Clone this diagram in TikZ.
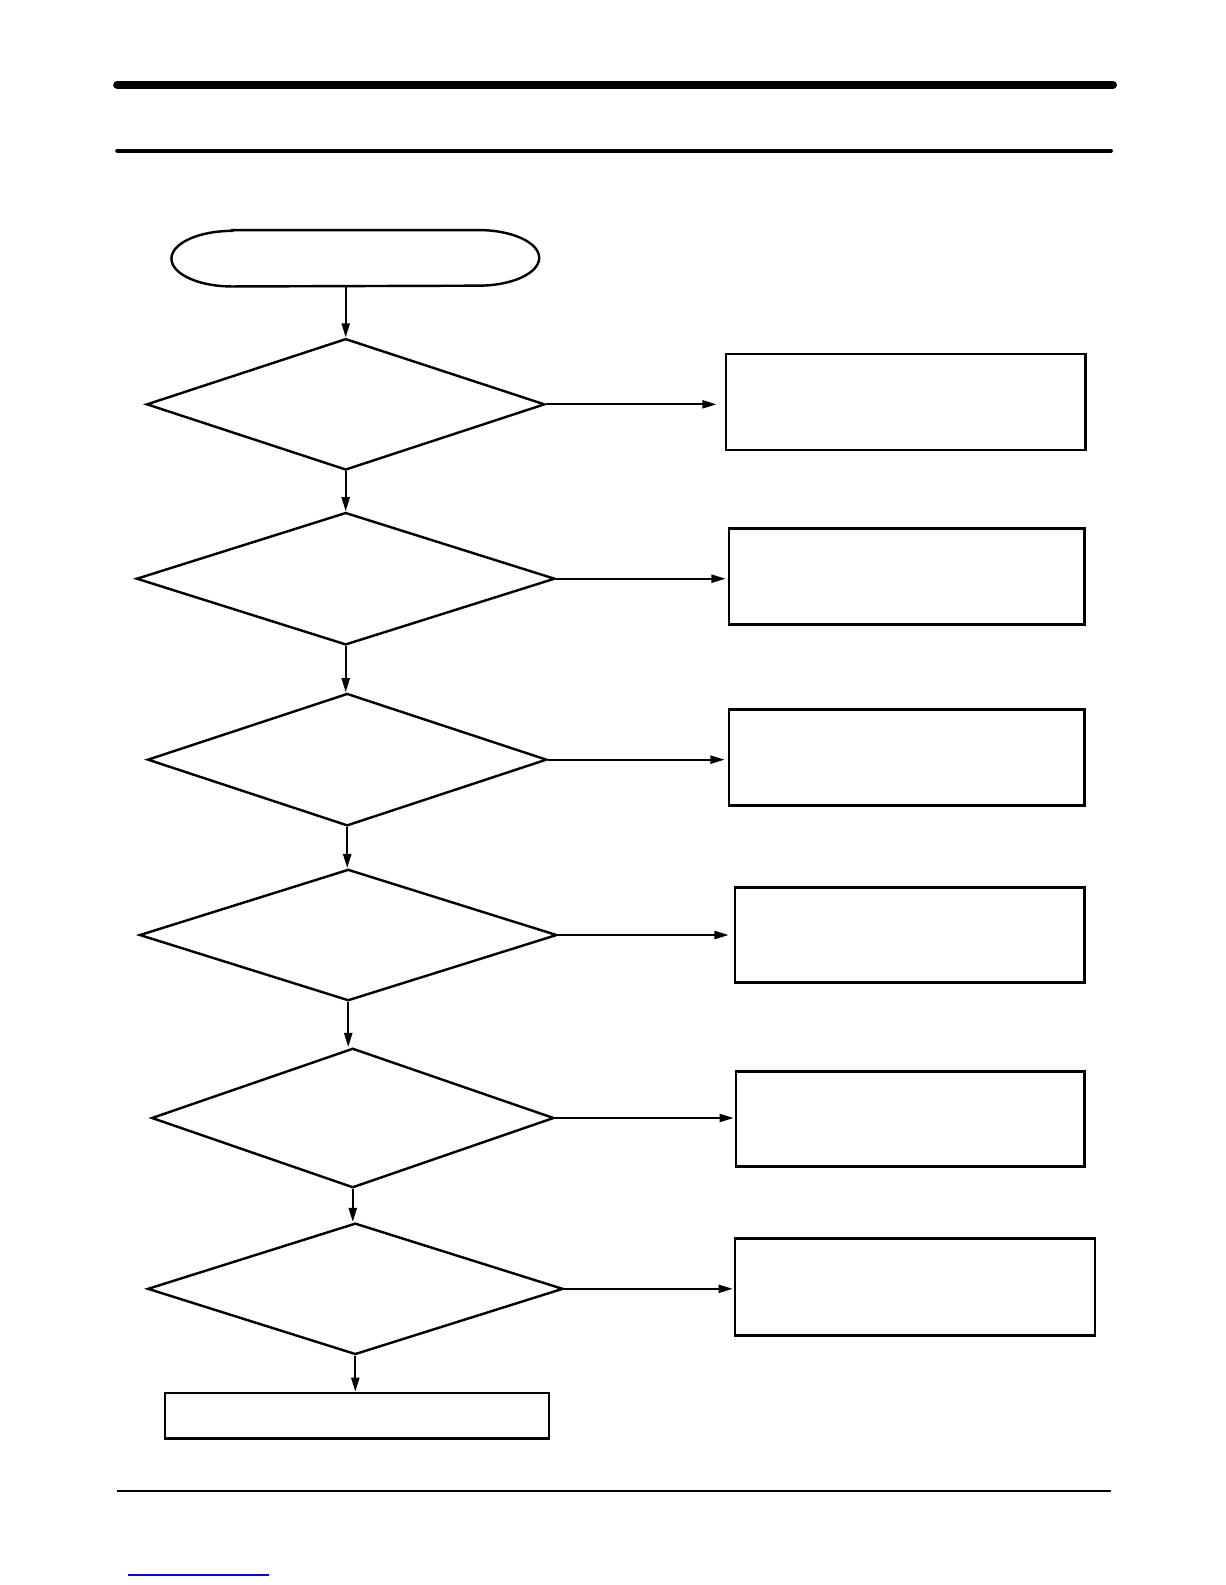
\documentclass[tikz,border=0pt]{standalone}
\usetikzlibrary{shapes.geometric,arrows.meta}
\begin{document}
\begin{tikzpicture}[x=0.5pt,y=-0.5pt,
  dec/.style={diamond,draw,line width=1.2pt,inner sep=0pt,aspect=3},
  outbox/.style={rectangle,draw,line width=1.2pt,inner sep=0pt},
  flow/.style={line width=1pt,-{Triangle[length=7pt,width=4pt]}}]
\useasboundingbox (0,0) rectangle (1212,1568);
% header / footer rules
\draw[line width=4pt,line cap=round] (116,84) -- (1101,84);
\draw[line width=2pt,line cap=round] (116,149) -- (1099,149);
\draw[line width=0.75pt] (116,1475) -- (1099,1475);
\draw[line width=0.8pt,blue] (127,1558) -- (266,1558);
% start terminal
\node[rectangle,draw=none,minimum width=181.5pt,minimum height=27.5pt,inner sep=0pt] (start) at (351.5,255.5) {};
\draw[line width=1.2pt] ([xshift=30pt]start.north west) -- ([xshift=-30pt]start.north east)
  arc[start angle=90,end angle=-90,x radius=30pt,y radius=13.75pt]
  -- ([xshift=30pt]start.south west)
  arc[start angle=270,end angle=90,x radius=30pt,y radius=13.75pt] -- cycle;
% decisions
\node[dec,minimum width=197pt,minimum height=65pt] (d1) at (342,400) {};
\node[dec,minimum width=207pt,minimum height=65.5pt] (d2) at (342,572.5) {};
\node[dec,minimum width=197.5pt,minimum height=65.5pt] (d3) at (343.5,751.5) {};
\node[dec,minimum width=206.5pt,minimum height=65pt] (d4) at (344.5,925) {};
\node[dec,minimum width=199pt,minimum height=69pt] (d5) at (349,1106) {};
\node[dec,minimum width=205.5pt,minimum height=65pt] (d6) at (351.5,1275) {};
% boxes
\node[outbox,minimum width=178pt,minimum height=47.5pt] (b1) at (896,397.5) {};
\node[outbox,minimum width=176pt,minimum height=47.5pt] (b2) at (897,570.5) {};
\node[outbox,minimum width=176pt,minimum height=47.5pt] (b3) at (897,749.5) {};
\node[outbox,minimum width=173pt,minimum height=47pt] (b4) at (900,925) {};
\node[outbox,minimum width=172.5pt,minimum height=47pt] (b5) at (900.5,1107) {};
\node[outbox,minimum width=178pt,minimum height=48pt] (b6) at (905,1273) {};
\node[outbox,minimum width=190pt,minimum height=22.5pt] (bend) at (353,1400.5) {};
% vertical flow
\draw[flow] (d1.north |- start.south) -- (d1.north);
\draw[flow] (d1.south) -- (d2.north -| d1.south);
\draw[flow] (d2.south) -- (d3.north -| d2.south);
\draw[flow] (d3.south) -- (d4.north -| d3.south);
\draw[flow] (d4.south) -- (d5.north -| d4.south);
\draw[flow] (d5.south) -- (d6.north -| d5.south);
\draw[flow] (d6.south) -- (d6.south |- bend.north);
% horizontal flow
\draw[flow,shorten >=4pt] (d1.east) -- (b1.west |- d1.east);
\draw[flow,shorten >=1pt] (d2.east) -- (b2.west |- d2.east);
\draw[flow,shorten >=1.5pt] (d3.east) -- (b3.west |- d3.east);
\draw[flow,shorten >=2.5pt] (d4.east) -- (b4.west |- d4.east);
\draw[flow,shorten >=0.5pt] (d5.east) -- (b5.west |- d5.east);
\draw[flow,shorten >=0.5pt] (d6.east) -- (b6.west |- d6.east);
\end{tikzpicture}
\end{document}
